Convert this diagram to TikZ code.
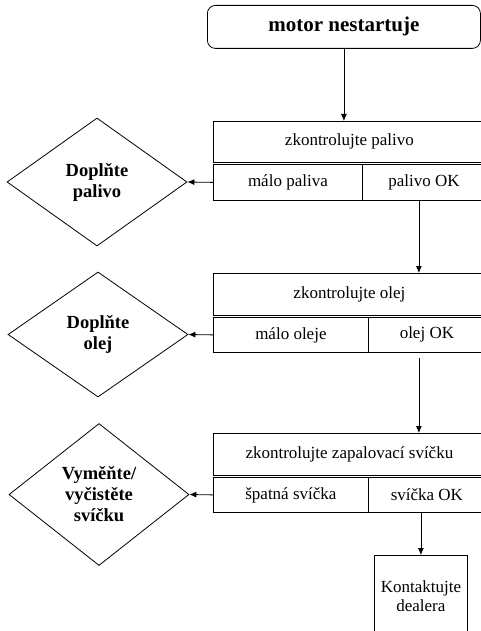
\documentclass[tikz,border=0pt]{standalone}
\usepackage{fontspec}
\setmainfont{Liberation Serif}
\usetikzlibrary{arrows.meta,shapes.geometric}

\begin{document}
\begin{tikzpicture}[x=1pt,y=-1pt,line width=0.8pt,
	every node/.style={font=\fontsize{17}{19}\selectfont, inner sep=0pt},
	cell/.style={draw, rectangle, anchor=north west, align=center},
	choice/.style={draw, diamond, aspect=1.4, minimum width=180pt, align=center,
	  font=\fontsize{18.5}{21}\bfseries\selectfont},
	line/.style={draw, -{Latex[length=7pt,width=6pt]}}]
	\useasboundingbox (0,0) rectangle (481,631);
	\clip (0,0) rectangle (481,631);

	\node[cell, rounded corners=8pt, minimum width=273pt, minimum height=43pt,
	  font=\fontsize{21}{24}\bfseries\selectfont] (start) at (207,5) {motor nestartuje};

	% palivo
	\node[cell, minimum width=272pt, minimum height=41pt] (check1) at (213,121) {zkontrolujte palivo};
	\node[cell, minimum width=149pt, minimum height=36pt] (low1) at (213,164) {málo paliva};
	\node[cell, minimum width=123pt, minimum height=36pt] (ok1) at (362,164) {palivo OK};
	\node[choice, minimum height=128pt] (fix1) at (97,182) {Doplňte\\palivo};

	% olej
	\node[cell, minimum width=272pt, minimum height=42pt] (check2) at (213,273) {zkontrolujte olej};
	\node[cell, minimum width=155pt, minimum height=35pt] (low2) at (213,317) {málo oleje};
	\node[cell, minimum width=117pt, minimum height=35pt] (ok2) at (368,317) {olej OK};
	\node[choice, minimum height=125pt] (fix2) at (98,334.5) {Doplňte\\olej};

	% svicka
	\node[cell, minimum width=272pt, minimum height=42pt] (check3) at (213,433) {zkontrolujte zapalovací svíčku};
	\node[cell, minimum width=155pt, minimum height=35pt] (low3) at (213,477) {špatná svíčka};
	\node[cell, minimum width=117pt, minimum height=35pt] (ok3) at (368,477) {svíčka OK};
	\node[choice, minimum height=142pt] (fix3) at (99,494.5) {Vyměňte/\\vyčistěte\\svíčku};

	\node[cell, minimum width=93pt, minimum height=82pt] (dealer) at (374,555) {Kontaktujte\\dealera};

	\draw[line] (start.south) -- (start.south |- check1.north);
	\draw[line] ([xshift=-5pt]ok1.south) -- ([xshift=-5pt]ok1.south |- check2.north);
	\draw[line, shorten <=5pt] ([xshift=-8pt]ok2.south) -- ([xshift=-8pt]ok2.south |- check3.north);
	\draw[line] (ok3.south -| dealer.north) -- (dealer.north);

	\draw[line] (low1.west) -- (fix1.east);
	\draw[line] (low2.west) -- (fix2.east);
	\draw[line] (low3.west) -- (fix3.east);
\end{tikzpicture}
\end{document}
